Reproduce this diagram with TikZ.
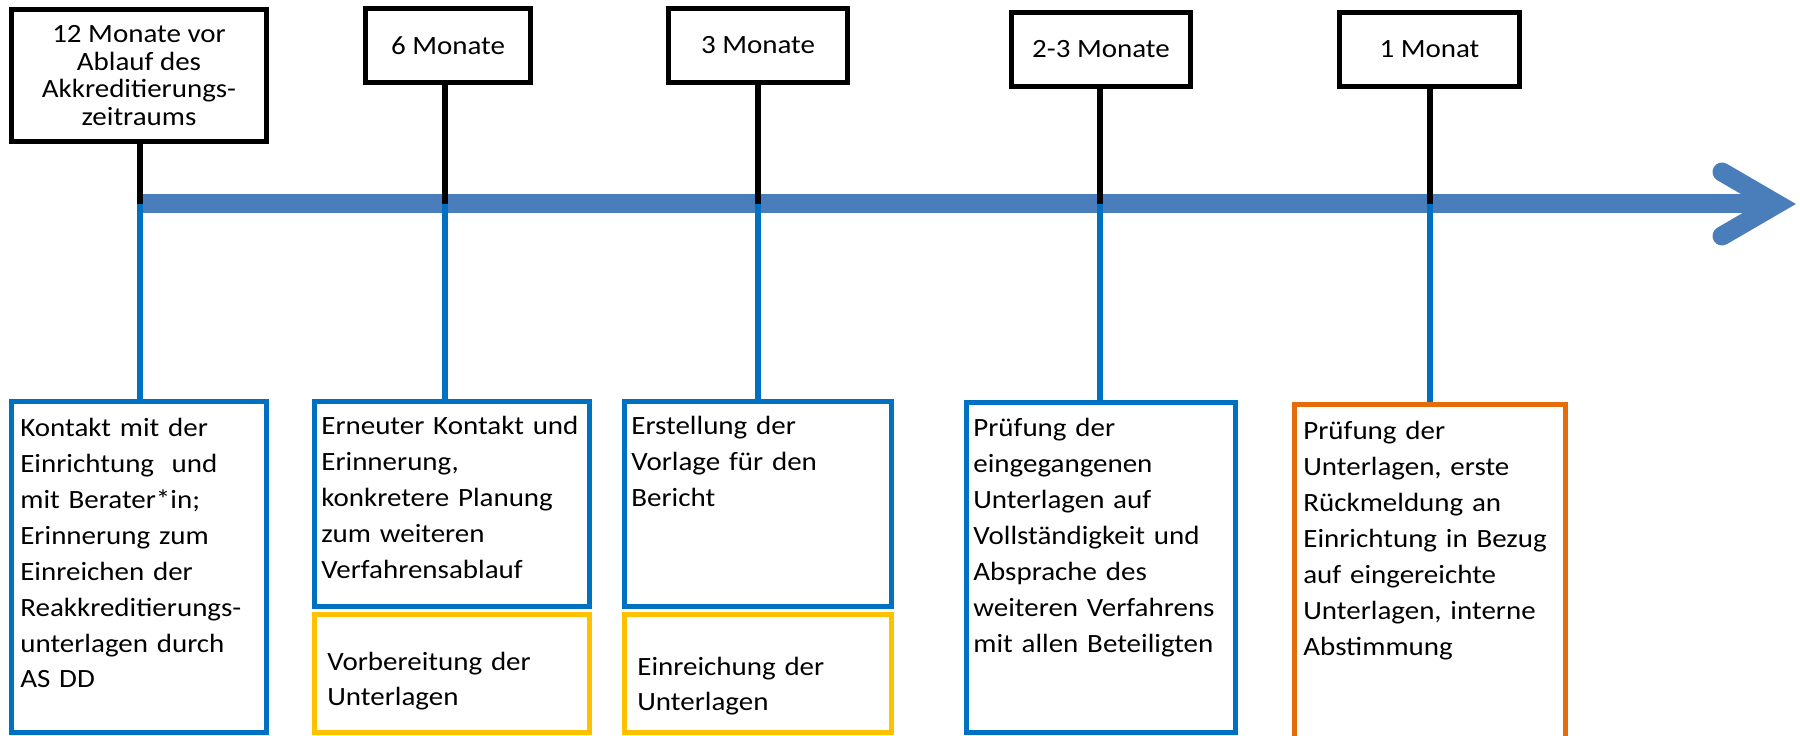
\documentclass[tikz,border=0pt]{standalone}
\usepackage{fontspec}
\setmainfont{Carlito}[FakeStretch=1.1]

\definecolor{tlblue}{HTML}{4A7EBB}
\definecolor{actblue}{HTML}{0070C0}
\definecolor{actyellow}{HTML}{FFC000}
\definecolor{actorange}{HTML}{E46C0A}

\begin{document}
\begin{tikzpicture}[x=0.02cm, y=-0.02cm,
    milestone/.style={rectangle, draw=black, line width=0.1cm, align=center, inner sep=0pt, font=\fontsize{15}{15.8}\selectfont},
    activity/.style={rectangle, draw=actblue, line width=0.1cm, inner sep=0pt},
    prep/.style={activity, draw=actyellow},
    review/.style={activity, draw=actorange},
    acttext/.style={anchor=base west, align=left, inner sep=0pt, text width=6cm, font=\fontsize{15}{20.4}\selectfont},
    blackstem/.style={line width=0.11cm, black},
    bluestem/.style={line width=0.11cm, actblue},
    timeline/.style={line width=0.38cm, tlblue}
]
\useasboundingbox (0,0) rectangle (1800,736);

% Milestones on top
\node[milestone, minimum width=5.12cm, minimum height=2.66cm] at (139,75.5) (m12) {12 Monate vor\\Ablauf des\\Akkreditierungs-\\zeitraums};
\node[milestone, minimum width=3.32cm, minimum height=1.5cm] at (448,45.5) (m6) {6 Monate};
\node[milestone, minimum width=3.6cm, minimum height=1.5cm] at (758,45.5) (m3) {3 Monate};
\node[milestone, minimum width=3.6cm, minimum height=1.5cm] at (1101,49.5) (m23) {2-3 Monate};
\node[milestone, minimum width=3.62cm, minimum height=1.5cm] at (1429.5,49.5) (m1) {1 Monat};

% Activity boxes
\node[activity, minimum width=5.12cm, minimum height=6.64cm] at (139,567) (a12) {};
\node[activity, minimum width=5.52cm, minimum height=4.12cm] at (452,504) (a6) {};
\node[prep, minimum width=5.52cm, minimum height=2.38cm] at (452,673.5) (p6) {};
\node[activity, minimum width=5.36cm, minimum height=4.12cm] at (758,504) (a3) {};
\node[prep, minimum width=5.36cm, minimum height=2.38cm] at (758,673.5) (p3) {};
\node[activity, minimum width=5.4cm, minimum height=6.62cm] at (1101,567.5) (a23) {};
\node[review, minimum width=5.44cm, minimum height=6.82cm] at (1430,574.5) (r1) {};

% Texts in the boxes
\node[acttext] at (20,437) (txt12) {Kontakt mit der\\Einrichtung~ und\\mit Berater*in;\\Erinnerung zum\\Einreichen der\\Reakkreditierungs-\\unterlagen durch\\AS DD};
\node[acttext] at (321,435) (txt6) {Erneuter Kontakt und\\Erinnerung,\\konkretere Planung\\zum weiteren\\Verfahrensablauf};
\node[acttext] at (327,670) (ptxt6) {Vorbereitung der\\Unterlagen};
\node[acttext] at (631,435) (txt3) {Erstellung der\\Vorlage für den\\Bericht};
\node[acttext] at (637,675) (ptxt3) {Einreichung der\\Unterlagen};
\node[acttext] at (973,437) (txt23) {Prüfung der\\eingegangenen\\Unterlagen auf\\Vollständigkeit und\\Absprache des\\weiteren Verfahrens\\mit allen Beteiligten};
\node[acttext] at (1303,440) (rtxt1) {Prüfung der\\Unterlagen, erste\\Rückmeldung an\\Einrichtung in Bezug\\auf eingereichte\\Unterlagen, interne\\Abstimmung};

% Timeline
\coordinate (tlstart) at (140,204);
\coordinate (tlend) at (1769,204);
\coordinate (tlhead) at (1777,204);
\coordinate (wingup) at (1722,172);
\coordinate (wingdown) at (1722,236);
\draw[timeline] (tlstart) -- (tlend);
\draw[timeline, line cap=round, line join=miter] (wingup) -- (tlhead) -- (wingdown);

% Points on the timeline
\coordinate (t12) at (140,204);
\coordinate (t6) at (445,204);
\coordinate (t3) at (758,204);
\coordinate (t23) at (1100,204);
\coordinate (t1) at (1430,204);

% Stems
\foreach \m/\t/\a in {m12/t12/a12, m6/t6/a6, m3/t3/a3, m23/t23/a23, m1/t1/r1} {
  \draw[blackstem] (\m.south -| \t) -- (\t);
  \draw[bluestem] (\t) -- (\a.north -| \t);
}

\end{tikzpicture}
\end{document}
